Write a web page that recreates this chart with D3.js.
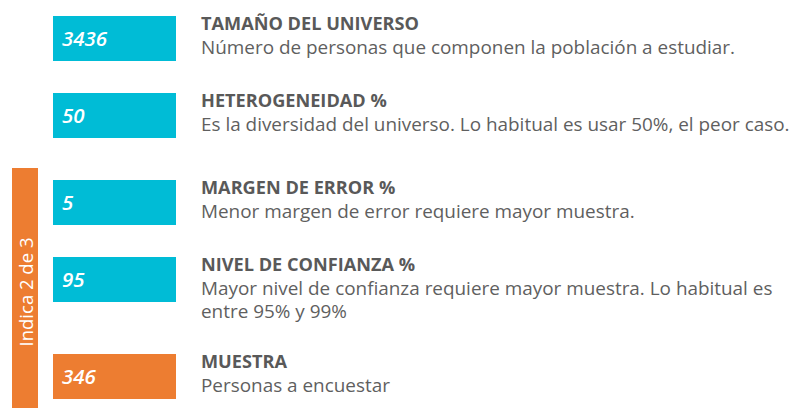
<!DOCTYPE html>
<html>
<head>
<meta charset="utf-8">
<script src="https://cdn.jsdelivr.net/npm/d3@7"></script>
<style>
  body { margin: 0; background: #fff; }
  svg { display: block; }
</style>
</head>
<body>
<svg id="chart" width="797" height="408"></svg>
<script>
// values shown in the boxes
var values = [3436, 50, 5, 95, 346];
var kinds = ["input", "input", "input", "input", "result"];
var titles = [
  "TAMAÑO DEL UNIVERSO",
  "HETEROGENEIDAD %",
  "MARGEN DE ERROR %",
  "NIVEL DE CONFIANZA %",
  "MUESTRA"
];
var descriptions = [
  ["Número de personas que componen la población a estudiar."],
  ["Es la diversidad del universo. Lo habitual es usar 50%, el peor caso."],
  ["Menor margen de error requiere mayor muestra."],
  ["Mayor nivel de confianza requiere mayor muestra. Lo habitual es", "entre 95% y 99%"],
  ["Personas a encuestar"]
];
var sideLabel = "Indica 2 de 3";
var bracketFrom = 2; // the orange bracket starts at this row

function draw() {
  var svg = d3.select("#chart");
  var svgWidth = +svg.attr("width");
  var svgHeight = +svg.attr("height");

  var font = "'Open Sans', sans-serif";
  var rowGap = 77, lineGap = 20, breakGap = 10, firstBaseline = 30;

  // title baselines, stacked row after row
  var baselines = [];
  var y = firstBaseline;
  titles.forEach(function(t, i) {
    if (i > 0) {
      y += rowGap + (descriptions[i - 1].length - 1) * lineGap;
      if (i === bracketFrom) y += breakGap;
    }
    baselines.push(y);
  });

  var color = d3.scaleOrdinal()
    .domain(["input", "result"])
    .range(["#00BCD6", "#ED7D31"]);

  var boxX = 53, boxW = 123, boxH = 45, textX = 201;

  var rows = svg.selectAll("g.row")
    .data(values)
    .enter()
    .append("g")
    .attr("class", "row")
    .attr("transform", function(d, i) { return "translate(0," + baselines[i] + ")"; });

  rows.append("rect")
    .attr("x", boxX)
    .attr("y", -14)
    .attr("width", boxW)
    .attr("height", boxH)
    .attr("fill", function(d, i) { return color(kinds[i]); });

  rows.append("text")
    .attr("x", boxX + 9)
    .attr("y", 15.5)
    .attr("fill", "#fff")
    .attr("font-family", font)
    .attr("font-style", "italic")
    .attr("font-weight", 600)
    .attr("font-size", 20.5)
    .text(function(d) { return d; });

  var titleText = rows.append("text")
    .attr("x", textX)
    .attr("y", 0)
    .attr("fill", "#595959")
    .attr("font-family", font)
    .attr("font-weight", "bold")
    .attr("font-size", 17.5)
    .text(function(d, i) { return titles[i]; });

  var descText = rows.selectAll("text.desc")
    .data(function(d, i) { return descriptions[i]; })
    .enter()
    .append("text")
    .attr("class", "desc")
    .attr("x", textX)
    .attr("y", function(d, j) { return 24 + j * 23; })
    .attr("fill", "#5f5f5f")
    .attr("font-family", font)
    .attr("font-size", 17.5)
    .text(function(d) { return d; });

  // squeeze the wider substitute font to the original text widths
  var titleScale = 218 / titleText.nodes()[0].getComputedTextLength();
  titleText.each(function() {
    d3.select(this).attr("textLength", this.getComputedTextLength() * titleScale)
      .attr("lengthAdjust", "spacingAndGlyphs");
  });
  var descScale = 534 / descText.nodes()[0].getComputedTextLength();
  descText.each(function() {
    d3.select(this).attr("textLength", this.getComputedTextLength() * descScale)
      .attr("lengthAdjust", "spacingAndGlyphs");
  });

  // orange side bracket
  var bracketTop = baselines[bracketFrom] - 26;
  svg.append("rect")
    .attr("x", 12)
    .attr("y", bracketTop)
    .attr("width", 26)
    .attr("height", svgHeight - bracketTop)
    .attr("fill", color("result"));

  svg.append("text")
    .attr("transform", "translate(25.5," + ((bracketTop + svgHeight) / 2 + 4) + ") rotate(-90)")
    .attr("text-anchor", "middle")
    .attr("dominant-baseline", "central")
    .attr("fill", "#fff")
    .attr("font-family", font)
    .attr("font-size", 18.5)
    .text(sideLabel);
}

draw();
</script>
</body>
</html>
